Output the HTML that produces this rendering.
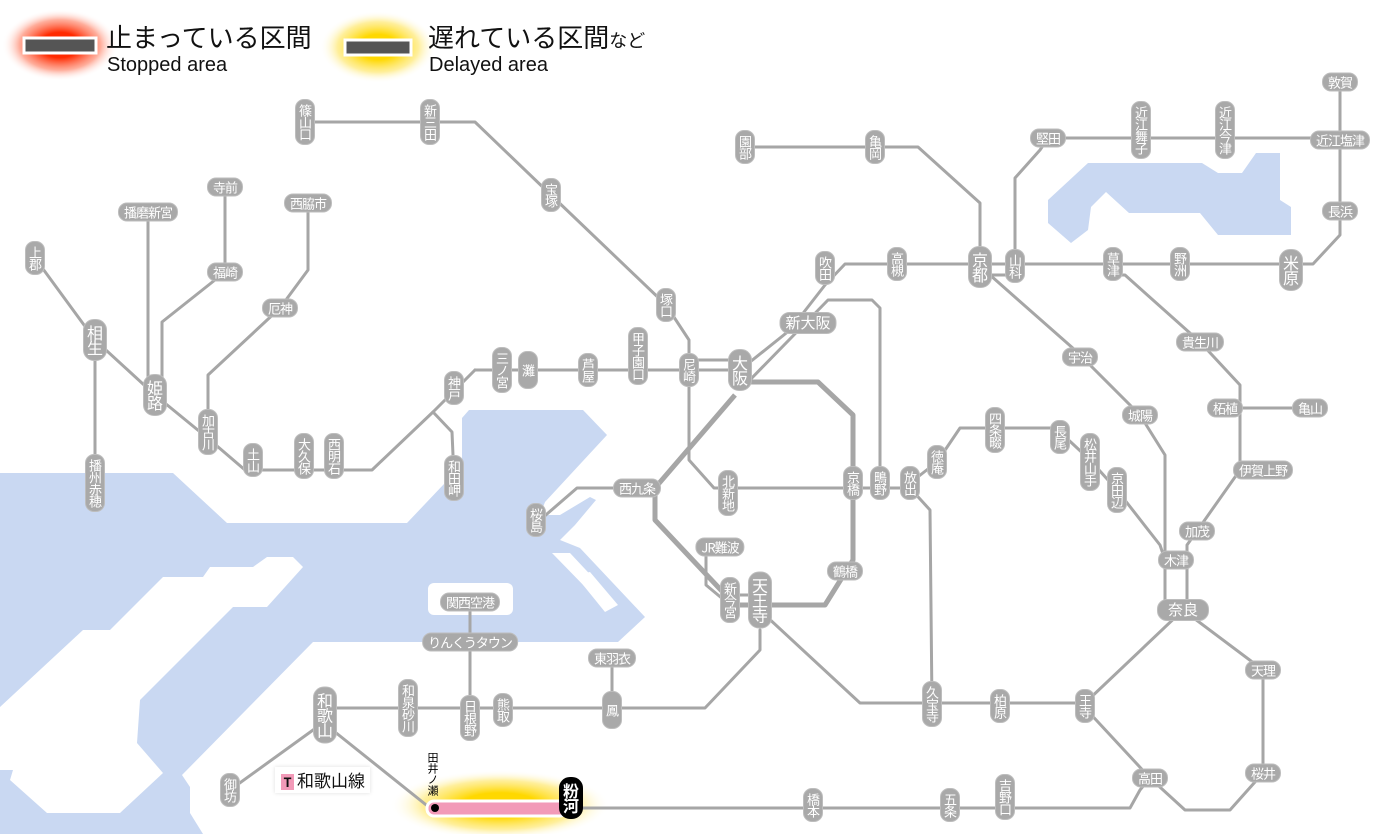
<!DOCTYPE html>
<html><head><meta charset="utf-8">
<style>
html,body{margin:0;padding:0;background:#fff;}
#w{position:relative;width:1400px;height:834px;overflow:hidden;background:#fff;font-family:"Liberation Sans","Noto Sans CJK JP",sans-serif;}
svg{position:absolute;left:0;top:0;}
.s{position:absolute;transform:translate(-50%,-50%);background:#a9a9a9;color:#fff;border-radius:9px;font-size:13px;white-space:nowrap;font-family:"Noto Sans CJK JP",sans-serif;border:1px solid #bdbdbd;}
.v{writing-mode:vertical-rl;text-orientation:upright;padding:4px 1px;line-height:16px;letter-spacing:-1px;}
.h{padding:0 5px;line-height:17px;letter-spacing:-1px;}
.b{font-size:16px;line-height:20px;border-radius:11px;padding:5px 1px;}
.hb{font-size:15px;line-height:20px;border-radius:10px;padding:0 5px;}
.lg{position:absolute;font-family:"Liberation Sans","Noto Sans CJK JP",sans-serif;color:#111;white-space:nowrap;}
</style></head><body><div id="w">
<svg width="1400" height="834" viewBox="0 0 1400 834">
<defs>
<radialGradient id="rg"><stop offset="0.35" stop-color="#ff2a00"/><stop offset="0.7" stop-color="#ff8a70" stop-opacity="0.7"/><stop offset="1" stop-color="#fff" stop-opacity="0"/></radialGradient>
<radialGradient id="yg"><stop offset="0.35" stop-color="#ffd800"/><stop offset="0.7" stop-color="#ffe870" stop-opacity="0.7"/><stop offset="1" stop-color="#fff" stop-opacity="0"/></radialGradient>
</defs>
<g fill="#c9d8f2">
<polygon points="0,473 173,473 227,523 407,523 462,465 462,418 469,410 583,410 607,435 545,502 540,515 560,515 590,497 596,500 575,525 560,540 580,548 645,617 618,642 313,642 182,775 190,787 190,813 203,834 0,834"/>
<polygon points="1048,200 1048,223 1071,243 1088,230 1091,207 1106,192 1129,213 1200,213 1218,235 1291,235 1291,207 1280,200 1280,153 1256,153 1242,173 1218,173 1202,163 1088,163"/>
</g>
<g fill="#fff">
<polygon points="0,707 83,630 110,630 163,577 203,577 210,567 253,567 267,557 293,557 303,567 267,607 233,607 140,700 137,743 163,773 120,813 47,813 10,780 13,770 0,770"/>
<rect x="428" y="583" width="85" height="32" rx="6"/>
<polygon points="552,553 570,553 600,585 590,592"/>
<polygon points="575,575 590,572 618,605 605,612"/>
</g>
<ellipse cx="60" cy="45" rx="58" ry="36" fill="url(#rg)"/>
<rect x="24" y="38" width="72" height="15" fill="#555" stroke="#fff" stroke-width="3"/>
<ellipse cx="378" cy="47" rx="58" ry="36" fill="url(#yg)"/>
<rect x="345" y="40" width="66" height="15" fill="#555" stroke="#fff" stroke-width="3"/>
<ellipse cx="500" cy="805" rx="110" ry="35" fill="url(#yg)"/>
<g fill="none" stroke="#a6a6a6" stroke-width="3" stroke-linejoin="round" stroke-linecap="round">
<polyline points="305,122 475,122 551,195 666,305 689,340 689,460 714,488 910,488"/>
<polyline points="475,370 740,370"/>
<polyline points="689,360 740,360"/>
<polyline points="475,370 433,412 372,470 245,470 210,440"/>
<polyline points="433,412 452,432 454,478"/>
<polyline points="210,440 155,395 95,340 35,258"/>
<polyline points="95,340 95,483"/>
<polyline points="148,212 148,395"/>
<polyline points="162,380 162,322 225,272 225,187"/>
<polyline points="208,432 208,375 280,308 308,270 308,203"/>
<polyline points="740,370 790,330 825,285 845,264 1313,264 1340,235 1340,82"/>
<polyline points="745,385 828,300 872,300 880,308 880,488"/>
<polyline points="745,147 918,147 980,203 980,265"/>
<polyline points="980,275 1015,275"/>
<polyline points="1015,265 1015,178 1040,150 1048,138 1340,138"/>
<polyline points="990,275 1075,350 1140,415 1165,455 1165,610"/>
<polyline points="1113,275 1125,275 1200,342 1240,385 1240,470 1197,531 1187,545 1187,610"/>
<polyline points="1225,408 1310,408"/>
<polyline points="910,483 937,462 960,428 1050,428 1060,432 1090,460 1117,490 1160,545 1165,560"/>
<polyline points="540,520 577,488 637,488"/>
<polyline points="765,615 860,703 1085,703 1183,610"/>
<polyline points="910,488 930,510 932,705"/>
<polyline points="760,630 760,650 705,708 325,708"/>
<polyline points="612,658 612,708"/>
<polyline points="470,602 470,718"/>
<polyline points="706,547 706,585 730,605"/>
<polyline points="730,595 760,595"/>
<polyline points="320,725 230,790"/>
<polyline points="330,728 430,808"/>
<polyline points="570,808 1130,808 1140,790 1150,778 1085,708"/>
<polyline points="1150,778 1185,810 1230,810 1263,773 1263,670 1183,610"/>
</g>
<g fill="none" stroke="#a6a6a6" stroke-width="5" stroke-linejoin="round">
<polyline points="745,382 818,382 853,415 853,560 825,605 735,605 655,520 655,488 735,395"/>
</g>
<rect x="427" y="801" width="140" height="15" rx="7" fill="#f29ab8" stroke="#fff" stroke-width="3"/>
<circle cx="435" cy="808" r="4" fill="#000"/>
</svg>

<div class="lg" style="left:106px;top:22px;font-size:26px;line-height:32px;">止まっている区間</div>
<div class="lg" style="left:107px;top:54px;font-size:20px;line-height:22px;">Stopped area</div>
<div class="lg" style="left:428px;top:22px;font-size:26px;line-height:32px;">遅れている区間<span style="font-size:18px">など</span></div>
<div class="lg" style="left:429px;top:54px;font-size:20px;line-height:22px;">Delayed area</div>

<div class="s v" style="left:305px;top:122px">篠山口</div>
<div class="s v" style="left:430px;top:122px">新三田</div>
<div class="s v" style="left:551px;top:195px">宝塚</div>
<div class="s v" style="left:666px;top:305px">塚口</div>
<div class="s v" style="left:689px;top:370px">尼崎</div>
<div class="s v" style="left:638px;top:356px">甲子園口</div>
<div class="s v" style="left:588px;top:370px">芦屋</div>
<div class="s v" style="left:528px;top:370px;padding:12px 1px">灘</div>
<div class="s v" style="left:502px;top:370px">三ノ宮</div>
<div class="s v" style="left:454px;top:388px">神戸</div>
<div class="s v" style="left:454px;top:478px">和田岬</div>
<div class="s v" style="left:334px;top:456px">西明石</div>
<div class="s v" style="left:304px;top:456px">大久保</div>
<div class="s v" style="left:253px;top:460px">土山</div>
<div class="s v" style="left:208px;top:432px">加古川</div>
<div class="s v b" style="left:155px;top:395px">姫路</div>
<div class="s v b" style="left:95px;top:340px">相生</div>
<div class="s v" style="left:35px;top:258px">上郡</div>
<div class="s v" style="left:95px;top:483px">播州赤穂</div>
<div class="s h" style="left:148px;top:212px">播磨新宮</div>
<div class="s h" style="left:225px;top:187px">寺前</div>
<div class="s h" style="left:225px;top:272px">福崎</div>
<div class="s h" style="left:308px;top:203px">西脇市</div>
<div class="s h" style="left:280px;top:308px">厄神</div>
<div class="s v" style="left:745px;top:147px">園部</div>
<div class="s v" style="left:875px;top:147px">亀岡</div>
<div class="s v b" style="left:980px;top:267px">京都</div>
<div class="s v" style="left:1015px;top:266px">山科</div>
<div class="s v" style="left:825px;top:268px">吹田</div>
<div class="s v" style="left:897px;top:264px">高槻</div>
<div class="s h" style="left:1048px;top:138px">堅田</div>
<div class="s v" style="left:1141px;top:130px">近江舞子</div>
<div class="s v" style="left:1225px;top:130px">近江今津</div>
<div class="s h" style="left:1340px;top:82px">敦賀</div>
<div class="s h" style="left:1340px;top:140px">近江塩津</div>
<div class="s h" style="left:1340px;top:211px">長浜</div>
<div class="s v" style="left:1113px;top:264px">草津</div>
<div class="s v" style="left:1180px;top:264px">野洲</div>
<div class="s v b" style="left:1291px;top:270px">米原</div>
<div class="s hb" style="left:808px;top:323px">新大阪</div>
<div class="s v b" style="left:740px;top:370px">大阪</div>
<div class="s h" style="left:1080px;top:357px">宇治</div>
<div class="s h" style="left:1200px;top:342px">貴生川</div>
<div class="s h" style="left:1140px;top:415px">城陽</div>
<div class="s h" style="left:1225px;top:408px">柘植</div>
<div class="s h" style="left:1310px;top:408px">亀山</div>
<div class="s h" style="left:1263px;top:470px">伊賀上野</div>
<div class="s h" style="left:1197px;top:531px">加茂</div>
<div class="s h" style="left:1176px;top:560px">木津</div>
<div class="s hb" style="left:1183px;top:610px;padding:0 10px">奈良</div>
<div class="s h" style="left:1263px;top:670px">天理</div>
<div class="s h" style="left:1263px;top:773px">桜井</div>
<div class="s h" style="left:1150px;top:778px">高田</div>
<div class="s v" style="left:1085px;top:706px">王寺</div>
<div class="s v" style="left:1000px;top:706px">柏原</div>
<div class="s v" style="left:932px;top:704px">久宝寺</div>
<div class="s v" style="left:937px;top:462px">徳庵</div>
<div class="s v" style="left:995px;top:430px">四条畷</div>
<div class="s v" style="left:1060px;top:437px">長尾</div>
<div class="s v" style="left:1090px;top:462px">松井山手</div>
<div class="s v" style="left:1117px;top:490px">京田辺</div>
<div class="s v" style="left:728px;top:493px">北新地</div>
<div class="s v" style="left:853px;top:483px">京橋</div>
<div class="s v" style="left:880px;top:483px">鴫野</div>
<div class="s v" style="left:910px;top:483px">放出</div>
<div class="s h" style="left:637px;top:488px">西九条</div>
<div class="s v" style="left:536px;top:520px">桜島</div>
<div class="s h" style="left:720px;top:547px">JR難波</div>
<div class="s v" style="left:730px;top:600px">新今宮</div>
<div class="s v b" style="left:760px;top:600px">天王寺</div>
<div class="s h" style="left:845px;top:571px">鶴橋</div>
<div class="s h" style="left:470px;top:602px">関西空港</div>
<div class="s h" style="left:470px;top:642px">りんくうタウン</div>
<div class="s h" style="left:612px;top:658px">東羽衣</div>
<div class="s v" style="left:612px;top:710px;padding:12px 1px">鳳</div>
<div class="s v" style="left:503px;top:710px">熊取</div>
<div class="s v" style="left:470px;top:718px">日根野</div>
<div class="s v" style="left:408px;top:708px">和泉砂川</div>
<div class="s v b" style="left:325px;top:715px">和歌山</div>
<div class="s v" style="left:230px;top:790px">御坊</div>
<div class="s v" style="left:813px;top:805px">橋本</div>
<div class="s v" style="left:950px;top:805px">五条</div>
<div class="s v" style="left:1005px;top:797px">吉野口</div>
<div class="s v b" style="left:571px;top:798px;background:#000;border-color:#000;font-weight:bold">粉河</div>
<div style="position:absolute;left:427px;top:752px;writing-mode:vertical-rl;text-orientation:upright;font-size:11px;line-height:12px;color:#000;font-family:'Noto Sans CJK JP',sans-serif;">田井ノ瀬</div>
<div style="position:absolute;left:275px;top:767px;width:95px;height:26px;background:#fff;box-shadow:0 0 4px #ddd;font-family:'Noto Sans CJK JP',sans-serif;font-size:17px;line-height:26px;color:#111;"><span style="display:inline-block;background:#f29ab8;color:#111;font-weight:bold;font-size:13px;line-height:16px;width:13px;text-align:center;margin:0 3px 0 6px;vertical-align:middle;">T</span>和歌山線</div>
</div></body></html>
